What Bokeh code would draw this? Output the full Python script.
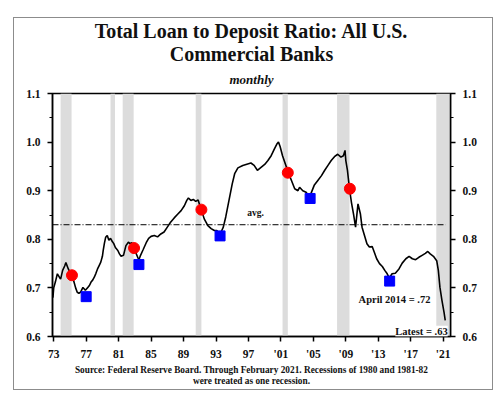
from bokeh.plotting import figure
from bokeh.models import Range1d, LinearAxis, FixedTicker, Label, Title, InlineStyleSheet
from bokeh.embed import file_html
from bokeh.resources import INLINE

# ---- data ----
years = [1972.9, 1973.0, 1973.2, 1973.45, 1973.7, 1973.85, 1974.1, 1974.35, 1974.5, 1974.8,
         1975.0, 1975.25, 1975.5, 1975.7, 1975.9, 1976.1, 1976.3, 1976.6, 1976.9, 1977.2,
         1977.4, 1977.6, 1977.8, 1978.0, 1978.2, 1978.4, 1978.6, 1978.8, 1979.0, 1979.1,
         1979.25, 1979.4, 1979.6, 1979.8, 1980.0, 1980.2, 1980.4, 1980.6, 1980.9, 1981.1,
         1981.3, 1981.6, 1981.9, 1982.2, 1982.4, 1982.6, 1982.9, 1983.1, 1983.35, 1983.5,
         1983.7, 1984.0, 1984.4, 1984.7, 1985.0, 1985.4, 1985.8, 1986.2, 1986.6, 1987.0,
         1987.4, 1987.85, 1988.3, 1988.7, 1989.1, 1989.4, 1989.6, 1989.9, 1990.2, 1990.5,
         1990.8, 1991.0, 1991.2, 1991.55, 1992.0, 1992.4, 1992.8, 1993.1, 1993.4, 1993.6,
         1993.9, 1994.2, 1994.6, 1995.0, 1995.3, 1995.7, 1996.3, 1996.9, 1997.3, 1997.7,
         1998.1, 1998.55, 1999.0, 1999.4, 1999.8, 2000.2, 2000.5, 2000.7, 2000.9, 2001.2,
         2001.55, 2001.9, 2002.3, 2002.7, 2003.1, 2003.3, 2003.7, 2004.1, 2004.4, 2004.7,
         2005.1, 2005.55, 2006.0, 2006.4, 2006.8, 2007.2, 2007.6, 2008.0, 2008.4, 2008.7,
         2008.9, 2009.0, 2009.2, 2009.45, 2009.7, 2009.95, 2010.2, 2010.5, 2010.8, 2011.0,
         2011.3, 2011.6, 2011.9, 2012.25, 2012.5, 2012.8, 2013.15, 2013.5, 2013.8, 2014.1,
         2014.3, 2014.5, 2014.7, 2015.1, 2015.55, 2015.95, 2016.4, 2016.8, 2017.2, 2017.6,
         2018.0, 2018.4, 2018.8, 2019.1, 2019.4, 2019.8, 2020.2, 2020.4, 2020.6, 2020.85,
         2021.1, 2021.25]
ratio = [0.680, 0.700, 0.712, 0.729, 0.722, 0.718, 0.736, 0.745, 0.752, 0.739,
         0.732, 0.726, 0.712, 0.700, 0.691, 0.689, 0.691, 0.701, 0.695, 0.701,
         0.705, 0.712, 0.716, 0.722, 0.730, 0.739, 0.746, 0.753, 0.765, 0.777,
         0.792, 0.804, 0.808, 0.798, 0.802, 0.796, 0.791, 0.783, 0.777, 0.770,
         0.765, 0.767, 0.787, 0.794, 0.791, 0.793, 0.782, 0.773, 0.763, 0.758,
         0.767, 0.778, 0.793, 0.802, 0.806, 0.808, 0.805, 0.811, 0.815, 0.825,
         0.835, 0.844, 0.852, 0.859, 0.869, 0.880, 0.885, 0.880, 0.882, 0.878,
         0.881, 0.870, 0.861, 0.842, 0.828, 0.822, 0.818, 0.818, 0.812, 0.814,
         0.825, 0.846, 0.880, 0.914, 0.935, 0.947, 0.952, 0.955, 0.957, 0.952,
         0.942, 0.948, 0.954, 0.962, 0.972, 0.986, 0.996, 1.000, 0.991, 0.972,
         0.955, 0.938, 0.921, 0.904, 0.900, 0.907, 0.900, 0.897, 0.890, 0.894,
         0.911, 0.921, 0.931, 0.942, 0.952, 0.962, 0.970, 0.975, 0.969, 0.972,
         0.983, 0.962, 0.942, 0.904, 0.875, 0.852, 0.825, 0.873, 0.852, 0.825,
         0.808, 0.791, 0.784, 0.785, 0.774, 0.760, 0.750, 0.744, 0.736, 0.729,
         0.722, 0.724, 0.729, 0.730, 0.739, 0.751, 0.760, 0.765, 0.760, 0.758,
         0.763, 0.767, 0.771, 0.775, 0.770, 0.765, 0.756, 0.736, 0.701, 0.674,
         0.650, 0.633]

peak_years = [1975.25, 1982.9, 1991.2, 2001.85, 2009.5]
peak_vals = [0.726, 0.782, 0.861, 0.937, 0.904]
trough_years = [1977.0, 1983.5, 1993.5, 2004.6, 2014.4]
trough_vals = [0.682, 0.748, 0.807, 0.884, 0.714]

rec_start = [1973.85, 1980.0, 1981.5, 1990.5, 2001.2, 2007.92, 2020.15]
rec_end = [1975.2, 1980.55, 1982.85, 1991.2, 2001.85, 2009.45, 2021.9]

avg_ratio = 0.83

x_ticks = [1973, 1977, 1981, 1985, 1989, 1993, 1997, 2001, 2005, 2009, 2013, 2017, 2021]
x_labels = ["73", "77", "81", "85", "89", "93", "97", "'01", "'05", "'09", "'13", "'17", "'21"]
y_ticks = [0.6, 0.7, 0.8, 0.9, 1.0, 1.1]
y_minor = [0.65, 0.75, 0.85, 0.95, 1.05]
y_labels = ["0.6", "0.7", "0.8", "0.9", "1.0", "1.1"]

X0, X1 = 1972.85, 2021.9
Y0, Y1 = 0.6, 1.1
SERIF = "Liberation Serif"

frame_css = InlineStyleSheet(css="""
:host { position: relative; }
:host::after {
  content: ''; position: absolute; left: 13px; top: 17px; width: 480px; height: 373px;
  border: 1.5px solid #8c8c8c; box-sizing: border-box; pointer-events: none;
}
""")

p = figure(width=496, height=392, x_range=Range1d(X0, X1), y_range=Range1d(Y0, Y1),
           output_backend="svg", toolbar_location=None,
           min_border_left=52, min_border_right=46, min_border_top=93, min_border_bottom=56,
           background_fill_color="white", border_fill_color="white",
           outline_line_color="black", outline_line_width=1.5,
           stylesheets=[frame_css])
p.title.visible = False
p.xgrid.visible = False
p.ygrid.visible = False

# recession shading
p.quad(left=rec_start, right=rec_end, bottom=Y0, top=Y1, fill_color="#dcdcdc",
       line_color=None)

# average line
p.segment(x0=[X0], x1=[2021.3], y0=[avg_ratio], y1=[avg_ratio], line_color="black",
          line_width=1, line_dash="6 2 1 2")

# main series
p.line(years, ratio, line_color="black", line_width=1.6)

p.scatter(peak_years, peak_vals, marker="circle", size=11, fill_color="#ff0000",
          line_color="#ff0000")
p.scatter(trough_years, trough_vals, marker="square", size=10, fill_color="#0000ff",
          line_color="#0000ff")

# axes
def style_axis(ax):
    ax.axis_line_color = "black"
    ax.axis_line_width = 1.5
    ax.major_tick_line_color = "black"
    ax.major_tick_line_width = 1.5
    ax.minor_tick_line_color = "black"
    ax.minor_tick_line_width = 1.2
    ax.major_tick_in = 0
    ax.major_tick_out = 5
    ax.minor_tick_in = 0
    ax.minor_tick_out = 3
    ax.major_label_text_font = SERIF
    ax.major_label_text_font_style = "bold"
    ax.major_label_text_font_size = "11.5px"
    ax.major_label_text_color = "#111111"

xa = p.xaxis[0]
xa.ticker = FixedTicker(ticks=x_ticks)
xa.major_label_overrides = {t: l for t, l in zip(x_ticks, x_labels)}
style_axis(xa)
xa.major_label_standoff = 6

ya = p.yaxis[0]
ya.ticker = FixedTicker(ticks=y_ticks, minor_ticks=y_minor)
ya.major_label_overrides = {t: l for t, l in zip(y_ticks, y_labels)}
style_axis(ya)
ya.major_label_standoff = 7

yr = LinearAxis(ticker=FixedTicker(ticks=y_ticks, minor_ticks=y_minor))
yr.major_label_overrides = {t: l for t, l in zip(y_ticks, y_labels)}
style_axis(yr)
yr.major_label_standoff = 7
p.add_layout(yr, "right")

# titles (first added sits nearest the frame)
def title(text, size, loc, style="bold", standoff=0):
    p.add_layout(Title(text=text, align="center", offset=-3, text_font=SERIF,
                       text_font_style=style, text_font_size=size, text_color="#111111",
                       standoff=standoff), loc)

title("monthly", "13px", "above", style="bold italic", standoff=14)
title("Commercial Banks", "20px", "above", standoff=-5)
title("Total Loan to Deposit Ratio: All U.S.", "20px", "above", standoff=4)
title("Source: Federal Reserve Board. Through February 2021. Recessions of 1980 and 1981-82",
      "9.3px", "below", standoff=0)
title("were treated as one recession.", "9.3px", "below", standoff=-1)

# in-plot labels
def lab(x, y, text, size, align="center", bg=None):
    kw = dict(x=x, y=y, text=text, text_font=SERIF, text_font_style="bold",
              text_font_size=size, text_align=align, text_baseline="alphabetic",
              text_color="#111111")
    if bg:
        kw["background_fill_color"] = bg
    p.add_layout(Label(**kw))

lab(1996.84, 0.8537, "avg.", "9.5px", align="left")
lab(2015.0, 0.6755, "April 2014 = .72", "10.5px")
lab(2018.33, 0.611, "Latest = .63", "10.5px", bg="white")

open("out.html", "w").write(file_html(p, INLINE))
